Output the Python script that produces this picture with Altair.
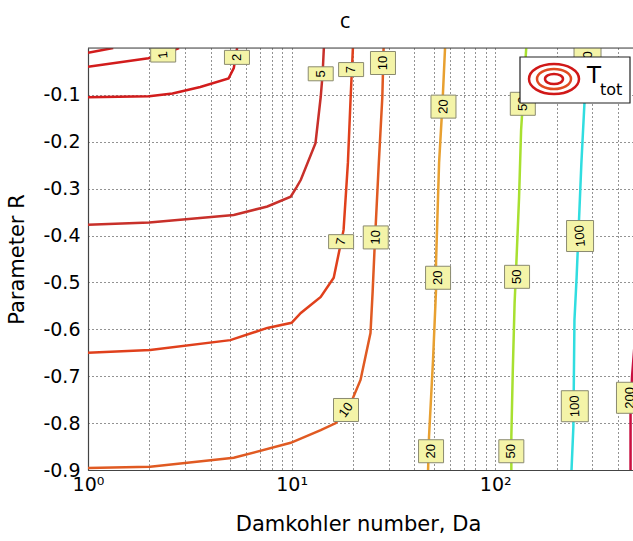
import altair as alt
import pandas as pd

# ---------------- data ----------------
levels = ["0.5", "1", "2", "5", "7", "10", "20", "50", "100", "200"]

da_l05 = [1.0, 1.33]
r_l05 = [-0.010, 0.0]

da_l1 = [1.0, 1.98, 2.34, 2.8]
r_l1 = [-0.040, -0.022, -0.013, 0.0]

da_l2 = [1.0, 2.0, 2.6, 3.56, 4.9, 5.2, 5.4]
r_l2 = [-0.105, -0.103, -0.097, -0.083, -0.065, -0.043, 0.0]

da_l5 = [1.0, 2.0, 5.2, 7.6, 9.9, 10.6, 11.1, 13.1, 13.9, 14.2, 14.4]
r_l5 = [-0.377, -0.372, -0.356, -0.338, -0.317, -0.296, -0.281, -0.203, -0.104, -0.055, 0.0]

da_l7 = [1.0, 2.02, 5.0, 7.6, 10.0, 11.1, 13.9, 16.1, 18.0, 18.9, 19.5, 20.0]
r_l7 = [-0.650, -0.644, -0.623, -0.597, -0.586, -0.565, -0.531, -0.490, -0.388, -0.245, -0.104, 0.0]

da_l10 = [1.0, 2.02, 5.2, 9.9, 13.9, 16.5, 19.5, 21.8, 24.4, 25.0, 25.6, 26.8, 27.9, 28.3]
r_l10 = [-0.896, -0.893, -0.874, -0.842, -0.815, -0.800, -0.758, -0.708, -0.608, -0.520, -0.420, -0.246, -0.104, 0.0]

da_l20 = [56.7, 55.0, 53.0, 51.2, 51.2, 49.5, 47.3, 46.8]
r_l20 = [0.0, -0.124, -0.245, -0.458, -0.516, -0.665, -0.829, -0.9]

da_l50 = [142, 134, 131, 127, 124.5, 122, 120, 120]
r_l50 = [0.0, -0.175, -0.317, -0.459, -0.544, -0.687, -0.829, -0.9]

da_l100 = [284, 274, 265, 251, 245, 242, 237]
r_l100 = [0.0, -0.122, -0.245, -0.490, -0.580, -0.808, -0.9]

da_l200 = [462, 462, 470, 490]
r_l200 = [-0.9, -0.78, -0.70, -0.60]

label_text = ["1", "2", "5", "7", "10", "20", "50", "100",
              "7", "10", "20", "50", "100",
              "10", "20", "50", "100", "200"]
label_da = [2.34, 5.39, 13.9, 19.6, 28.1, 55.7, 136.6, 284,
            17.5, 25.9, 52.4, 128, 261,
            18.5, 48.4, 120, 246, 459]
label_r = [-0.015, -0.020, -0.055, -0.046, -0.032, -0.125, -0.119, -0.030,
           -0.413, -0.404, -0.490, -0.488, -0.401,
           -0.772, -0.860, -0.860, -0.764, -0.746]

x_ticks = [1, 10, 100]
y_ticks = [-0.9, -0.8, -0.7, -0.6, -0.5, -0.4, -0.3, -0.2, -0.1]

# ---------------- styling ----------------
level_colors = ["#d21c1c", "#d21c1c", "#d21c1c", "#c8302a", "#e0401c",
                "#e05a22", "#e8a030", "#a8e030", "#30dde0", "#c81040"]
label_rot = [265, 270, 270, 270, 270, 272, 270, 270,
             282, 272, 270, 270, 265,
             306, 270, 270, 268, 270]

series = [da_l05, da_l1, da_l2, da_l5, da_l7, da_l10, da_l20, da_l50, da_l100, da_l200]
series_r = [r_l05, r_l1, r_l2, r_l5, r_l7, r_l10, r_l20, r_l50, r_l100, r_l200]
rows = []
for lev, das, rs in zip(levels, series, series_r):
    for i, (d, r) in enumerate(zip(das, rs)):
        rows.append({"level": lev, "da": d, "r": r, "idx": i})
lines_df = pd.DataFrame(rows)

labels_df = pd.DataFrame({"text": label_text, "da": label_da, "r": label_r, "rot": label_rot})
labels_df["nd"] = labels_df["text"].str.len().astype(str)

grid_x = [1, 2, 3, 4, 5, 6, 7, 8, 9, 10, 20, 30, 40, 50, 60, 70, 80, 90, 100, 200, 300, 400]

W, H = 545, 422
FONT = "DejaVu Sans"

x_scale = alt.Scale(type="log", domain=[1, 475], nice=False)
y_scale = alt.Scale(domain=[-0.9, 0], nice=False)

x_axis = alt.Axis(
    values=grid_x,
    labelExpr="datum.value == 1 ? '10\u2070' : datum.value == 10 ? '10\u00b9' : datum.value == 100 ? '10\u00b2' : ''",
    labelOverlap=False, labelFlush=False, ticks=False, labelPadding=5,
    labelFont=FONT, labelFontSize=19, labelColor="#000",
    grid=True, gridDash=[1, 3], gridColor="#111", gridOpacity=0.9,
    title="Damkohler number, Da", titleFont=FONT, titleFontSize=21,
    titleFontWeight="normal", titleColor="#000",
    titleX=270, titleY=60, titleBaseline="alphabetic", titleAlign="center",
    domainColor="#444", domainWidth=1.2,
)
y_axis = alt.Axis(
    values=y_ticks,
    labelExpr="'-' + format(-datum.value, '.1f')",
    labelOverlap=False, labelFlush=False, ticks=False, labelPadding=8,
    labelFont=FONT, labelFontSize=19, labelColor="#000",
    grid=True, gridDash=[1, 3], gridColor="#111", gridOpacity=0.9,
    title="Parameter R", titleFont=FONT, titleFontSize=21,
    titleFontWeight="normal", titleColor="#000",
    titleX=-71, titleY=211, titleBaseline="middle", titleAlign="center", titleAngle=270,
    domainColor="#444", domainWidth=1.2,
)

lines = alt.Chart(lines_df).mark_line(strokeWidth=2.5, clip=True).encode(
    x=alt.X("da:Q", scale=x_scale, axis=x_axis),
    y=alt.Y("r:Q", scale=y_scale, axis=y_axis),
    color=alt.Color("level:N", scale=alt.Scale(domain=levels, range=level_colors), legend=None),
    order=alt.Order("idx:Q"),
)

# label boxes drawn as pixel-sized symbol paths (size=4 -> unit scale)
box_paths = ["M-12.5,-7H12.5V7H-12.5Z",
             "M-12.5,-11.5H12.5V11.5H-12.5Z",
             "M-13.5,-15.5H13.5V15.5H-13.5Z"]
boxes = alt.Chart(labels_df).mark_point(
    filled=True, size=4, fill="#f4f4a8", stroke="#8a8a70", strokeWidth=1,
    opacity=1, fillOpacity=1, clip=True,
).encode(
    x=alt.X("da:Q", scale=x_scale),
    y=alt.Y("r:Q", scale=y_scale),
    shape=alt.Shape("nd:N", scale=alt.Scale(domain=["1", "2", "3"], range=box_paths), legend=None),
)

texts = alt.Chart(labels_df).mark_text(
    font="Liberation Sans", fontSize=13, color="#000", align="center", baseline="middle", clip=True,
).encode(
    x=alt.X("da:Q", scale=x_scale),
    y=alt.Y("r:Q", scale=y_scale),
    text="text:N",
    angle=alt.Angle("rot:Q", scale=None),
)

one = pd.DataFrame({"k": [0]})
top_border = alt.Chart(one).mark_rule(color="#444", strokeWidth=1.2).encode(
    x=alt.value(0), x2=alt.value(W), y=alt.value(0)
)

title_text = alt.Chart(one).mark_text(text="c", font="Open Sans", fontSize=22, color="#000",
                                      align="center", baseline="alphabetic").encode(
    x=alt.value(257), y=alt.value(-20)
)

legend_box = alt.Chart(one).mark_rect(fill="white", stroke="#222", strokeWidth=1.2).encode(
    x=alt.value(432), x2=alt.value(542), y=alt.value(9), y2=alt.value(55)
)


def ellipse(rx, ry):
    return f"M{-rx},0A{rx},{ry},0,1,1,{rx},0A{rx},{ry},0,1,1,{-rx},0Z"


def ring(rx, ry, color):
    return alt.Chart(one).mark_point(shape=ellipse(rx, ry), size=4, filled=False, stroke=color,
                                     strokeWidth=2.5, opacity=1).encode(x=alt.value(466), y=alt.value(31))


ring_outer = ring(25, 15, "#d01818")
ring_mid = ring(17, 10, "#e04a20")
ring_in = ring(9, 5, "#d01818")

leg_T = alt.Chart(one).mark_text(text="T", font=FONT, fontSize=23, color="#000",
                                 align="center", baseline="alphabetic").encode(x=alt.value(506), y=alt.value(35))
leg_tot = alt.Chart(one).mark_text(text="tot", font=FONT, fontSize=16, color="#000",
                                   align="left", baseline="alphabetic").encode(x=alt.value(512), y=alt.value(47))

chart = alt.layer(
    lines, boxes, texts, top_border, title_text, legend_box, ring_outer, ring_mid, ring_in, leg_T, leg_tot
).properties(
    width=W, height=H,
    autosize=alt.AutoSizeParams(type="none"),
    padding={"left": 88, "top": 48, "right": 0, "bottom": 71},
).configure_view(stroke=None).configure(background="white")

chart.save("out.html", embed_options={"renderer": "svg", "actions": False})
